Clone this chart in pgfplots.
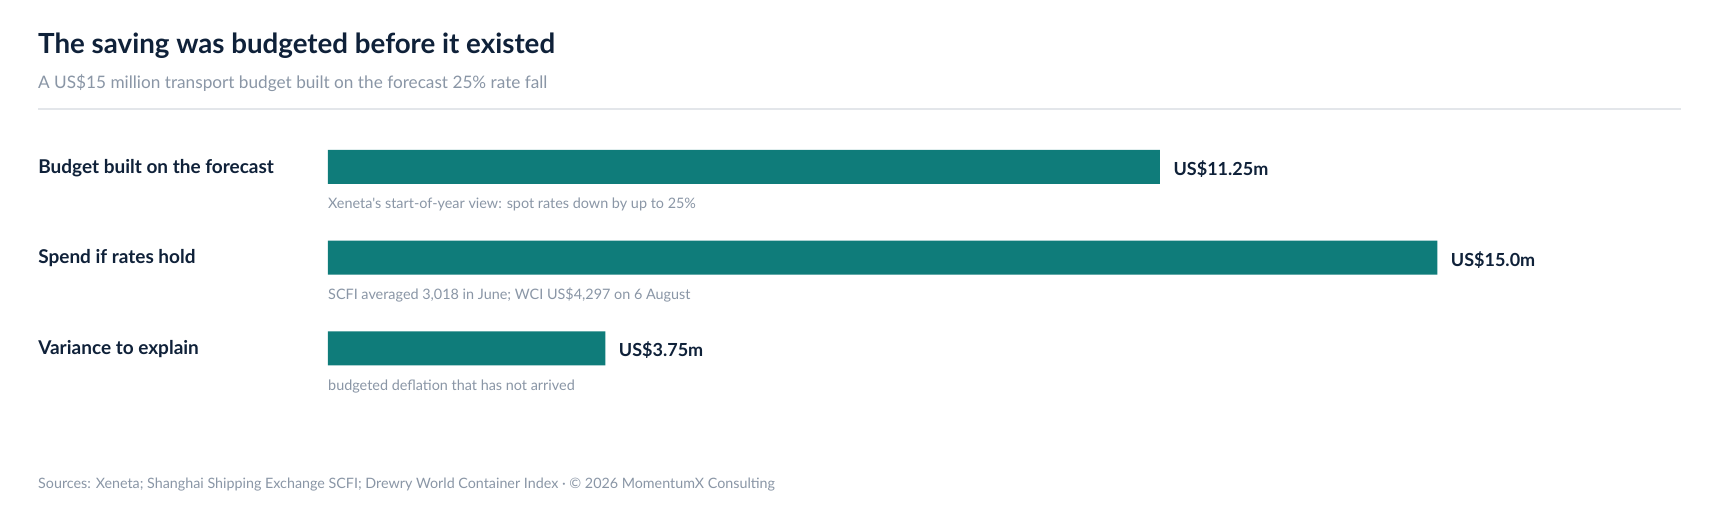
\documentclass[border=0pt]{standalone}
\usepackage{pgfplots}
\pgfplotsset{compat=1.18}
\usepackage{fontspec}
\setmainfont{Lato}
\newfontfamily\plainlato{Lato}
\definecolor{ink}{HTML}{0F2139}
\definecolor{muted}{HTML}{8A96A6}
\definecolor{rulegrey}{HTML}{E3E6EA}
\definecolor{barteal}{HTML}{0F7C7A}
\begin{document}
\begin{tikzpicture}[x=1pt,y=1pt]
\path[use as bounding box, fill=white] (0,0) rectangle (1719,525);
% header
\node[anchor=base west, inner sep=0, font=\fontsize{27.7}{34}\selectfont\bfseries, text=ink]
  at (38,471.7) {The saving was budgeted before it existed};
\node[anchor=base west, inner sep=0, font=\fontsize{17.2}{20}\selectfont, text=muted]
  at (38,436.7) {A US\$15 million transport budget built on the forecast 25\% rate fall};
\draw[rulegrey, line width=1.5pt] (38,416) -- (1681,416);
\begin{axis}[
  at={(328pt,131.35pt)}, anchor=south west,
  scale only axis, width=1109.3pt, height=272.1pt,
  xmin=0, xmax=15, ymin=-0.5, ymax=2.5, y dir=reverse,
  xbar, bar width=34pt, clip=false,
  axis line style={draw=none}, tick style={draw=none},
  xtick=\empty, ytick={0,1,2},
  yticklabels={Budget built on the forecast, Spend if rates hold, Variance to explain},
  yticklabel style={anchor=base west, inner sep=0pt, xshift=-285.6pt, yshift=-6.3pt,
    font=\fontsize{19}{23}\selectfont\bfseries, text=ink},
  nodes near coords, point meta=explicit symbolic,
  nodes near coords style={anchor=base west, inner sep=0pt, xshift=13.4pt, yshift=-8.5pt,
    font=\fontsize{18}{23}\selectfont\bfseries, text=ink},
]
\addplot[fill=barteal, draw=none] coordinates {
  (11.25,0) [US\$11.25m]
  (15,1)    [US\$15.0m]
  (3.75,2)  [US\$3.75m]
};
\node[anchor=base west, inner sep=0, yshift=-42pt, font=\plainlato\fontsize{14.4}{18}\selectfont, text=muted]
  at (axis cs:0,0) {Xeneta's start-of-year view: spot rates down by up to 25\%};
\node[anchor=base west, inner sep=0, yshift=-42pt, font=\plainlato\fontsize{14.4}{18}\selectfont, text=muted]
  at (axis cs:0,1) {SCFI averaged 3,018 in June; WCI US\$4,297 on 6 August};
\node[anchor=base west, inner sep=0, yshift=-42pt, font=\plainlato\fontsize{14.4}{18}\selectfont, text=muted]
  at (axis cs:0,2) {budgeted deflation that has not arrived};
\end{axis}
% footer
\node[anchor=base west, inner sep=0, font=\fontsize{14.3}{18}\selectfont, text=muted]
  at (38,36.7) {Sources: Xeneta; Shanghai Shipping Exchange SCFI; Drewry World Container Index · © 2026 MomentumX Consulting};
\end{tikzpicture}
\end{document}
